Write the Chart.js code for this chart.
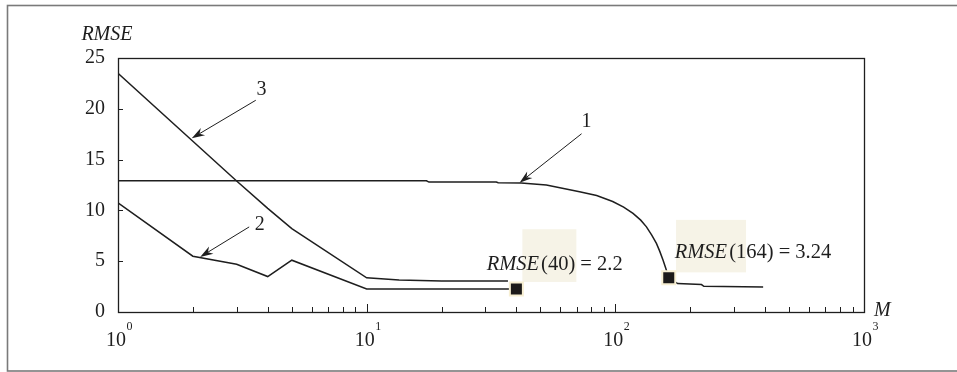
<!DOCTYPE html>
<html>
<head>
<meta charset="utf-8">
<script src="https://cdn.jsdelivr.net/npm/chart.js@4.4.1/dist/chart.umd.min.js"></script>
<style>
  html,body{margin:0;padding:0;background:#fff}
  #wrap{width:957px;height:372px}
</style>
</head>
<body>
<div id="wrap"><canvas id="c" width="957" height="372"></canvas></div>
<script>
// ═══════════════════════════════════════════════════════════════
// DATA
// ═══════════════════════════════════════════════════════════════
const m1    = [1, 17.4, 17.8, 33.2, 33.8, 41.8, 52.8, 71.8, 84.1, 97.6, 108, 117.8, 126.5, 133.4, 140.1, 146.3, 150.8, 155.6, 159.5, 164, 178, 222, 227, 393];
const rmse1 = [12.92, 12.92, 12.79, 12.79, 12.72, 12.70, 12.50, 11.83, 11.46, 10.87, 10.33, 9.70, 9.04, 8.38, 7.56, 6.75, 5.99, 5.10, 4.31, 3.36, 2.80, 2.70, 2.53, 2.47];

const m2    = [1, 2, 3, 4, 5, 10, 40];
const rmse2 = [10.75, 5.49, 4.70, 3.49, 5.10, 2.27, 2.27];

const m3    = [1, 2, 3, 4, 5, 10, 13.5, 20, 37];
const rmse3 = [23.5, 16.8, 12.9, 10.2, 8.2, 3.37, 3.15, 3.04, 3.04];

const markM    = [40, 164];
const markRmse = [2.27, 3.36];
const markText = ['(40) = 2.2', '(164) = 3.24'];

const curveNames   = ['1', '2', '3'];
const arrowTipM    = [41.2, 2.14, 1.98];
const arrowTipRmse = [12.72, 5.42, 17.1];

const yTickVals = [0, 5, 10, 15, 20, 25];
const xDecades  = [1, 10, 100, 1000];

// ─── layout bits (pixels, relative to anchors) ───
const arrowTail = [[62,-49],[49,-30],[64,-38]];
const nameOff   = [[67,-61],[59.5,-31.7],[69.8,-48.3]];
const markLabelOff = [[-29.7,-18.7],[6,-20]];
const markBoxOff   = [[6,-59.7,54,52.7],[7.3,-58,70,52.5]];

const INK = '#1e1e1e';
const SERIF = '"Liberation Serif", "DejaVu Serif", serif';

const pts = (xs,ys)=>xs.map((x,i)=>({x, y:ys[i]}));

function arrow(ctx, sx, sy, tx, ty){
  const a = Math.atan2(ty-sy, tx-sx), L=13, W=4.2, N=9;
  const dx=Math.cos(a), dy=Math.sin(a);
  ctx.beginPath(); ctx.moveTo(sx,sy); ctx.lineTo(tx-dx*N, ty-dy*N); ctx.stroke();
  ctx.beginPath();
  ctx.moveTo(tx,ty);
  ctx.lineTo(tx-dx*L-dy*W, ty-dy*L+dx*W);
  ctx.lineTo(tx-dx*N, ty-dy*N);
  ctx.lineTo(tx-dx*L+dy*W, ty-dy*L-dx*W);
  ctx.closePath(); ctx.fill();
}

const decor = {
  id:'decor',
  beforeDraw(chart){
    const ctx=chart.ctx;
    ctx.save();
    ctx.fillStyle='#fff'; ctx.fillRect(0,0,chart.width,chart.height);
    ctx.strokeStyle='#7a7a7a'; ctx.lineWidth=1.6;
    ctx.strokeRect(7.5,5.5,chart.width+10,365.5);
    ctx.restore();
  },
  beforeDatasetsDraw(chart){
    const ctx=chart.ctx, xs=chart.scales.x, ys=chart.scales.y;
    ctx.save();
    ctx.fillStyle='#f6f3e7';
    markM.forEach((m,i)=>{
      const px=xs.getPixelForValue(m), py=ys.getPixelForValue(markRmse[i]);
      const b=markBoxOff[i];
      ctx.fillRect(px+b[0], py+b[1], b[2], b[3]);
    });
    ctx.restore();
  },
  afterDatasetsDraw(chart){
    const ctx=chart.ctx, xs=chart.scales.x, ys=chart.scales.y, A=chart.chartArea;
    ctx.save();
    // plot frame
    ctx.strokeStyle=INK; ctx.lineWidth=1.3;
    ctx.strokeRect(Math.round(A.left)+0.5, Math.round(A.top)+0.5,
                   Math.round(A.right-A.left), Math.round(A.bottom-A.top));
    // inward ticks
    ctx.lineWidth=1;
    ctx.beginPath();
    for(let d=0; d<xDecades.length; d++){
      const px=Math.round(xs.getPixelForValue(xDecades[d]))+0.5;
      ctx.moveTo(px,A.bottom); ctx.lineTo(px,A.bottom-8);
      if(d<xDecades.length-1) for(let k=2;k<=9;k++){
        const q=Math.round(xs.getPixelForValue(xDecades[d]*k))+0.5;
        ctx.moveTo(q,A.bottom); ctx.lineTo(q,A.bottom-5);
      }
    }
    yTickVals.forEach(v=>{
      const py=Math.round(ys.getPixelForValue(v))+0.5;
      ctx.moveTo(A.left,py); ctx.lineTo(A.left+5,py);
    });
    ctx.stroke();

    // x labels 10^n
    ctx.fillStyle=INK; ctx.textBaseline='alphabetic'; ctx.textAlign='left';
    xDecades.forEach((v,i)=>{
      const px=xs.getPixelForValue(v);
      ctx.font='20px '+SERIF; const w1=ctx.measureText('10').width;
      ctx.font='12px '+SERIF; const w2=ctx.measureText(String(i)).width;
      const x0=px-(w1+w2)/2+1;
      ctx.font='20px '+SERIF; ctx.fillText('10', x0, A.bottom+33.5);
      ctx.font='12px '+SERIF; ctx.fillText(String(i), x0+w1+0.5, A.bottom+18);
    });

    // axis titles
    ctx.font='italic 20px '+SERIF;
    ctx.fillText('RMSE', A.left-36.6, A.top-18.3);
    ctx.fillText('M', A.right+10, A.bottom+3.5);

    // numbered arrows
    ctx.strokeStyle=INK; ctx.fillStyle=INK; ctx.lineWidth=1;
    curveNames.forEach((nm,i)=>{
      const tx=xs.getPixelForValue(arrowTipM[i]), ty=ys.getPixelForValue(arrowTipRmse[i]);
      arrow(ctx, tx+arrowTail[i][0], ty+arrowTail[i][1], tx, ty);
      ctx.font='20px '+SERIF; ctx.textAlign='center'; ctx.textBaseline='middle';
      ctx.fillText(nm, tx+nameOff[i][0], ty+nameOff[i][1]);
    });

    // marker annotations
    ctx.textAlign='left'; ctx.textBaseline='alphabetic';
    markM.forEach((m,i)=>{
      const px=xs.getPixelForValue(m), py=ys.getPixelForValue(markRmse[i]);
      let x=px+markLabelOff[i][0]; const y=py+markLabelOff[i][1];
      ctx.font='italic 20.5px '+SERIF; ctx.fillText('RMSE', x, y);
      x+=ctx.measureText('RMSE').width+2;
      ctx.font='20.5px '+SERIF; ctx.fillText(markText[i], x, y);
    });
    ctx.restore();
  }
};

const lineDs = (data)=>({data, borderColor:INK, borderWidth:1.5, pointRadius:0, fill:false, tension:0});

new Chart(document.getElementById('c'), {
  type:'line',
  data:{datasets:[
    {data:pts(markM,markRmse), showLine:false, pointStyle:'rect', pointRadius:9.2,
     pointBackgroundColor:'#1c1a1a', pointBorderColor:'#f7efd3', pointBorderWidth:2},
    lineDs(pts(m1,rmse1)),
    lineDs(pts(m2,rmse2)),
    lineDs(pts(m3,rmse3))
  ]},
  options:{
    responsive:false, animation:false, devicePixelRatio:1,
    layout:{padding:{left:0, top:58, right:93, bottom:0}},
    plugins:{legend:{display:false}, tooltip:{enabled:false}},
    scales:{
      x:{type:'logarithmic', min:1, max:1000,
         grid:{display:false}, border:{display:false}, ticks:{display:false},
         afterFit:s=>{s.height=60;}},
      y:{min:0, max:25,
         grid:{display:false}, border:{display:false},
         ticks:{stepSize:5, padding:5, color:INK, font:{family:SERIF, size:20}},
         afterFit:s=>{s.width=118;}}
    }
  },
  plugins:[decor]
});
</script>
</body>
</html>
